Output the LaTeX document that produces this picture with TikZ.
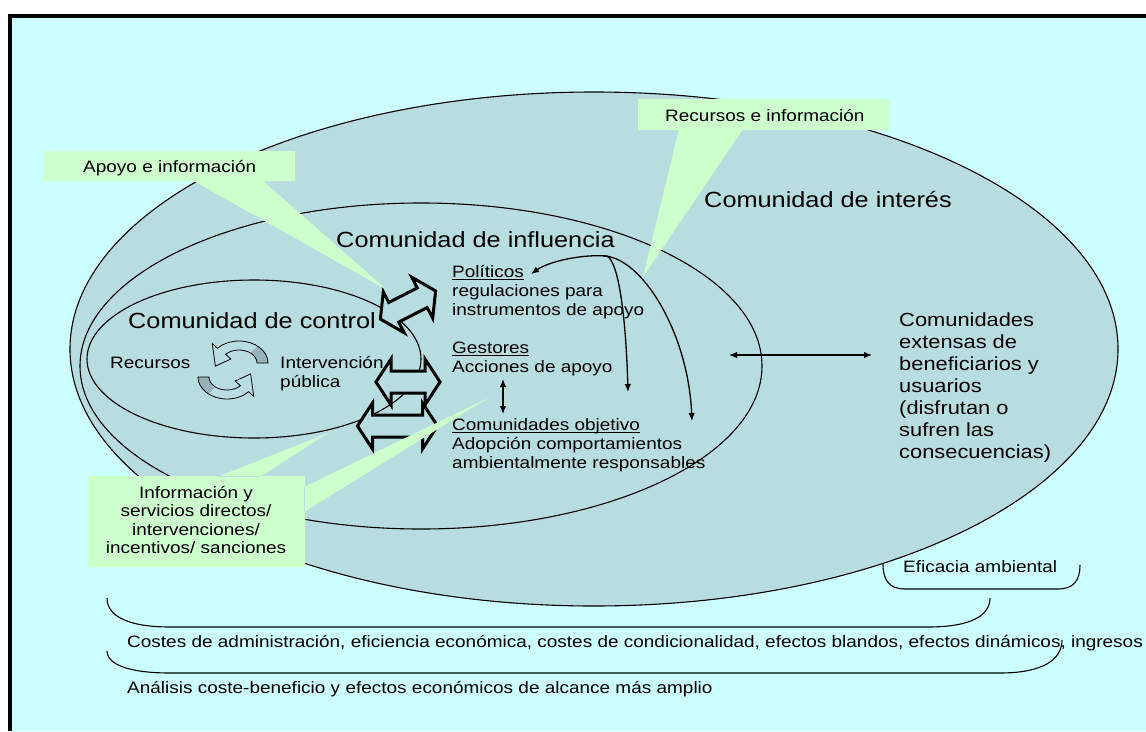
\documentclass[tikz,border=0pt]{standalone}
\usepackage{fontspec}
\setmainfont{Liberation Sans}
\usetikzlibrary{arrows.meta,calc}
\definecolor{bgcyan}{RGB}{204,255,255}
\definecolor{ellteal}{RGB}{184,221,224}
\definecolor{callgreen}{RGB}{204,255,204}
\definecolor{cyclegray}{RGB}{150,178,182}
\newcommand{\ulword}[1]{\setbox0\hbox{#1}\rlap{\rule[-2.6pt]{\wd0}{1.1pt}}\box0}
\tikzset{
    lbl/.style = {inner sep=0pt, xscale=1.15, anchor=base west, align=left,
        font=\fontsize{16.5}{19}\selectfont},
    biglbl/.style = {lbl, font=\fontsize{22}{26}\selectfont},
    ring/.style = {draw, line width=1.1pt},
    callout/.style = {fill=callgreen},
    conn/.style = {draw, line width=1.3pt},
    brace/.style = {draw, line width=1.1pt},
    dblarrow/.pic = {
        \draw[line width=3pt, line join=miter, fill=ellteal]
            (-#1,0) -- ({-#1+15},-23) -- ({-#1+15},-11) -- ({#1-15},-11) -- ({#1-15},-23)
            -- (#1,0) -- ({#1-15},23) -- ({#1-15},11) -- ({-#1+15},11) -- ({-#1+15},23) -- cycle;
    },
    cycarrow/.pic = {
        \fill[cyclegray] (0:29 and 22) arc[start angle=0, end angle=-50, x radius=29, y radius=22]
            -- (-50:18 and 13) arc[start angle=-50, end angle=0, x radius=18, y radius=13] -- cycle;
        \draw[line width=0.8pt] (0:29 and 22) arc[start angle=0, end angle=-138, x radius=29, y radius=22]
            -- (-138:36 and 29) -- (-190:24 and 18) -- (-138:11 and 6)
            -- (-138:18 and 13) arc[start angle=-138, end angle=0, x radius=18, y radius=13] -- cycle;
    }
}

\begin{document}
\begin{tikzpicture}[x=1pt, y=-1pt, >={Latex[length=8pt,width=6.5pt]}]
    \useasboundingbox (0,0) rectangle (1146,731);
    \fill[white] (0,0) rectangle (1146,731);
    \fill[bgcyan] (8,14) rectangle (1146,731);
    \fill[black] (8,14) rectangle (1146,18);
    \fill[black] (8,14) rectangle (12,731);

    \draw[ring, fill=ellteal] (594,349) ellipse [x radius=524, y radius=257];
    \draw[ring] (421,366) ellipse [x radius=341, y radius=163];
    \draw[ring] (254,359) ellipse [x radius=167, y radius=79];

    \pic (cycUp) at (239,363) {cycarrow};
    \pic[rotate=180] (cycDn) at (227,377) {cycarrow};

    \pic (arrC) at (397.5,426) {dblarrow=40};
    \pic (arrB) at (408,382) {dblarrow=32};
    \pic[rotate=27] (arrA) at (408,305) {dblarrow=31};

    \path[callout] (43,151) rectangle (295,181) (192,180) -- (387,290) -- (262,180) -- cycle;
    \path[callout] (638,99) rectangle (889,130) (679,129) -- (643,277) -- (743,129) -- cycle;
    \path[callout] (88,476) rectangle (305,567) (217,477) -- (328,433) -- (260,477) -- cycle
        (304,487) -- (488,398) -- (304,512) -- cycle;

    \node[lbl] (apoyoT) at (83,172) {Apoyo e información};
    \node[lbl] (recinfT) at (665,121) {Recursos e información};
    \node[lbl, anchor=base, align=center, font=\fontsize{16.5}{18.5}\selectfont] (infoT) at (196,553.5)
        {Información y\\servicios directos/\\intervenciones/\\incentivos/ sanciones};

    \node[biglbl] (interes) at (704,207) {Comunidad de interés};
    \node[biglbl] (influ) at (336,247) {Comunidad de influencia};
    \node[biglbl] (ctrl) at (128,328) {Comunidad de control};
    \node[lbl] (recur) at (110,368) {Recursos};
    \node[lbl] (interv) at (280,387) {Intervención\\pública};
    \node[lbl] (pol) at (452,315) {\ulword{Políticos}\\regulaciones para\\instrumentos de apoyo};
    \node[lbl] (ges) at (452,372) {\ulword{Gestores}\\Acciones de apoyo};
    \node[lbl] (obj) at (452,468) {\ulword{Comunidades objetivo}\\Adopción comportamientos\\ambientalmente responsables};
    \node[lbl, font=\fontsize{19}{22}\selectfont] (ext) at (899,458)
        {Comunidades\\extensas de\\beneficiarios y\\usuarios\\(disfrutan o\\sufren las\\consecuencias)};
    \node[lbl] (efic) at (903,572) {Eficacia ambiental};
    \node[lbl] (costes) at (127,647) {Costes de administración, eficiencia económica, costes de condicionalidad, efectos blandos, efectos dinámicos, ingresos};
    \node[lbl] (analisis) at (127,693) {Análisis coste-beneficio y efectos económicos de alcance más amplio};

    \coordinate (polR) at (531,274);
    \coordinate (apex) at (607,256);
    \coordinate (gesR) at (628,392);
    \coordinate (apexB) at (603,256);
    \coordinate (objR) at (692,421);
    \coordinate (gesDn) at (503,379);
    \coordinate (objUp) at (503,414);
    \coordinate (inflR) at (729,355);
    \coordinate (extL) at (872,355);
    \draw[conn, <->] (polR) .. controls (548,262) and (580,254) .. (apex) .. controls (619,262) and (626,320) .. (gesR);
    \draw[conn, ->] (apexB) .. controls (640,256) and (688,330) .. (objR);
    \draw[conn, <->] (gesDn) -- (objUp);
    \draw[conn, <->] (inflR) -- (extL);

    \draw[brace] (107,598) .. controls (107,616) and (128,627) .. (170,627) -- (928,627) .. controls (970,627) and (990,616) .. (990,598);
    \draw[brace] (107,651) .. controls (107,664) and (128,673) .. (170,673) -- (1000,673) .. controls (1042,673) and (1062,660) .. (1062,640);
    \draw[brace] (883,564) .. controls (883,580) and (889,589) .. (905,589) -- (1058,589) .. controls (1074,589) and (1080,580) .. (1080,565);
\end{tikzpicture}
\end{document}
